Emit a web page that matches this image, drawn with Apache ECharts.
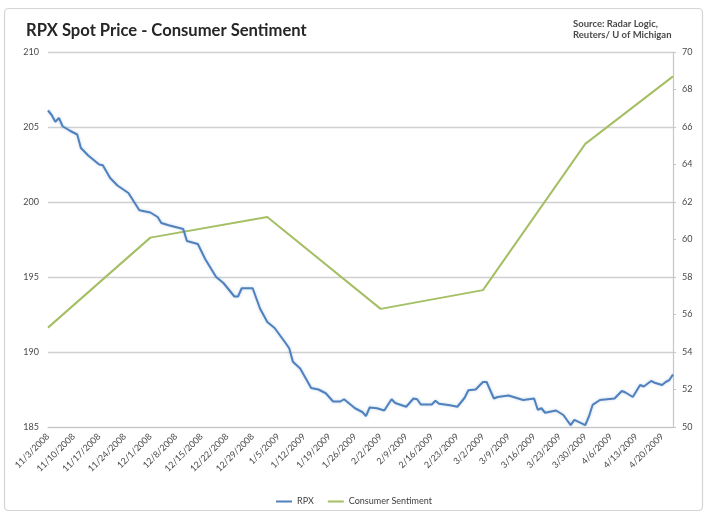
<!DOCTYPE html>
<html>
<head>
<meta charset="utf-8">
<title>RPX Spot Price - Consumer Sentiment</title>
<script src="https://cdn.jsdelivr.net/npm/echarts@6/dist/echarts.min.js"></script>
<style>
  html, body { margin: 0; padding: 0; background: #ffffff; }
  #chart { width: 708px; height: 516px; }
</style>
</head>
<body>
<div id="chart"></div>
<script>
// RPX daily spot price (left axis)
const rpxDates = [
  '11/3/2008','11/4/2008','11/5/2008','11/6/2008','11/7/2008','11/9/2008','11/11/2008','11/12/2008',
  '11/14/2008','11/17/2008','11/18/2008','11/20/2008','11/22/2008','11/25/2008','11/28/2008',
  '12/1/2008','12/3/2008','12/4/2008','12/6/2008','12/10/2008','12/11/2008','12/14/2008','12/16/2008',
  '12/19/2008','12/21/2008','12/24/2008','12/25/2008','12/26/2008','12/29/2008','12/31/2008',
  '1/2/2009','1/4/2009','1/7/2009','1/8/2009','1/9/2009','1/11/2009','1/14/2009','1/16/2009',
  '1/18/2009','1/20/2009','1/22/2009','1/23/2009','1/26/2009','1/28/2009','1/29/2009','1/30/2009',
  '2/1/2009','2/3/2009','2/5/2009','2/6/2009','2/9/2009','2/11/2009','2/12/2009','2/13/2009',
  '2/16/2009','2/17/2009','2/18/2009','2/21/2009','2/23/2009','2/25/2009','2/26/2009','2/28/2009',
  '3/2/2009','3/3/2009','3/5/2009','3/6/2009','3/9/2009','3/13/2009','3/16/2009','3/17/2009',
  '3/18/2009','3/19/2009','3/22/2009','3/24/2009','3/26/2009','3/27/2009','3/30/2009','3/31/2009',
  '4/1/2009','4/3/2009','4/7/2009','4/9/2009','4/10/2009','4/12/2009','4/14/2009','4/15/2009',
  '4/17/2009','4/18/2009','4/20/2009','4/21/2009','4/22/2009','4/23/2009'
];
const rpxValues = [
  206.1, 205.8, 205.35, 205.6, 205.05, 204.75, 204.5, 203.6,
  203.1, 202.5, 202.45, 201.6, 201.1, 200.6, 199.45,
  199.3, 199.0, 198.6, 198.45, 198.2, 197.4, 197.2, 196.2,
  195.0, 194.6, 193.7, 193.7, 194.25, 194.25, 192.9,
  192.0, 191.6, 190.6, 190.25, 189.35, 188.9, 187.6, 187.5,
  187.25, 186.7, 186.7, 186.85, 186.25, 186.0, 185.73, 186.3,
  186.25, 186.1, 186.85, 186.6, 186.35, 186.9, 186.85, 186.5,
  186.5, 186.75, 186.55, 186.45, 186.35, 186.95, 187.45, 187.5,
  188.0, 188.0, 186.9, 187.0, 187.1, 186.8, 186.9, 186.15,
  186.25, 185.95, 186.1, 185.8, 185.13, 185.47, 185.13, 185.7,
  186.47, 186.8, 186.9, 187.4, 187.3, 187.0, 187.8, 187.7,
  188.07, 187.95, 187.8, 188.0, 188.13, 188.5
];

// University of Michigan consumer sentiment (right axis)
const sentimentDates = ['11/3/2008', '12/1/2008', '1/2/2009', '2/2/2009', '3/2/2009', '3/30/2009', '4/23/2009'];
const sentimentValues = [55.3, 60.1, 61.2, 56.3, 57.3, 65.1, 68.7];

// Axis ranges
const leftAxis = { min: 185, max: 210, step: 5 };
const rightAxis = { min: 50, max: 70, step: 2 };

const titleText = 'RPX Spot Price - Consumer Sentiment';
const sourceLines = ['Source: Radar Logic,', 'Reuters/ U of Michigan'];

// Daily category axis from first to last observation
function fmt(d) {
  return (d.getUTCMonth() + 1) + '/' + d.getUTCDate() + '/' + d.getUTCFullYear();
}
const categories = [];
(function () {
  const start = Date.UTC(2008, 10, 3);
  const end = Date.UTC(2009, 3, 23);
  for (let t = start; t <= end; t += 86400000) categories.push(fmt(new Date(t)));
})();

const pair = (dates, vals) => dates.map((d, i) => [d, vals[i]]);

const FONT = 'Lato, "Liberation Sans", sans-serif';
const chart = echarts.init(document.getElementById('chart'), null, { renderer: 'canvas' });

chart.setOption({
  backgroundColor: '#ffffff',
  animation: false,
  graphic: [
    {
      type: 'rect',
      shape: { x: 4.5, y: 8.5, width: 698, height: 502, r: 4 },
      style: { fill: 'none', stroke: '#d4d4d4', lineWidth: 1.2 },
      z: -1
    },
    {
      type: 'text',
      left: 573, top: 19,
      style: {
        text: sourceLines.join('\n'),
        font: 'bold 9.5px ' + FONT,
        fill: '#4a4a4a',
        lineHeight: 10.5
      }
    }
  ],
  title: {
    text: titleText,
    left: 21, top: 17,
    textStyle: { fontFamily: FONT, fontSize: 16.6, fontWeight: 'bold', color: '#262626' }
  },
  legend: {
    bottom: 5,
    left: 'center',
    itemWidth: 16,
    itemHeight: 2,
    itemGap: 14,
    icon: 'rect',
    textStyle: { fontFamily: FONT, fontSize: 9, color: '#404040' },
    data: ['RPX', 'Consumer Sentiment']
  },
  grid: { left: 48, right: 35, top: 52, bottom: 89, containLabel: false },
  xAxis: {
    type: 'category',
    data: categories,
    boundaryGap: false,
    axisLine: { show: true, lineStyle: { color: '#c6c6c6', width: 1.2 } },
    axisTick: { show: false },
    axisLabel: {
      interval: 6,
      rotate: 45,
      margin: 8,
      fontFamily: FONT,
      fontSize: 9,
      color: '#4a4a4a'
    },
    splitLine: { show: false }
  },
  yAxis: [
    {
      type: 'value',
      min: leftAxis.min, max: leftAxis.max, interval: leftAxis.step,
      axisLine: { show: false },
      axisTick: { show: false },
      axisLabel: { fontFamily: FONT, fontSize: 9, color: '#4a4a4a', margin: 9 },
      splitLine: { show: true, lineStyle: { color: '#d0d0d0', width: 1.3 } }
    },
    {
      type: 'value',
      position: 'right',
      min: rightAxis.min, max: rightAxis.max, interval: rightAxis.step,
      axisLine: { show: true, lineStyle: { color: '#c6c6c6', width: 1.2 } },
      axisTick: { show: true, length: 3, lineStyle: { color: '#c6c6c6' } },
      axisLabel: { fontFamily: FONT, fontSize: 9, color: '#4a4a4a', margin: 9 },
      splitLine: { show: false }
    }
  ],
  series: [
    {
      name: 'RPX',
      type: 'line',
      yAxisIndex: 0,
      data: pair(rpxDates, rpxValues),
      showSymbol: false,
      symbol: 'none',
      lineStyle: { color: '#4F81BD', width: 2, shadowColor: 'rgba(79,129,189,0.35)', shadowBlur: 3 },
      itemStyle: { color: '#4F81BD' },
      z: 3
    },
    {
      name: 'Consumer Sentiment',
      type: 'line',
      yAxisIndex: 1,
      data: pair(sentimentDates, sentimentValues),
      showSymbol: false,
      symbol: 'none',
      lineStyle: { color: '#A5BF64', width: 2 },
      itemStyle: { color: '#A5BF64' },
      z: 2
    }
  ]
});
</script>
</body>
</html>
